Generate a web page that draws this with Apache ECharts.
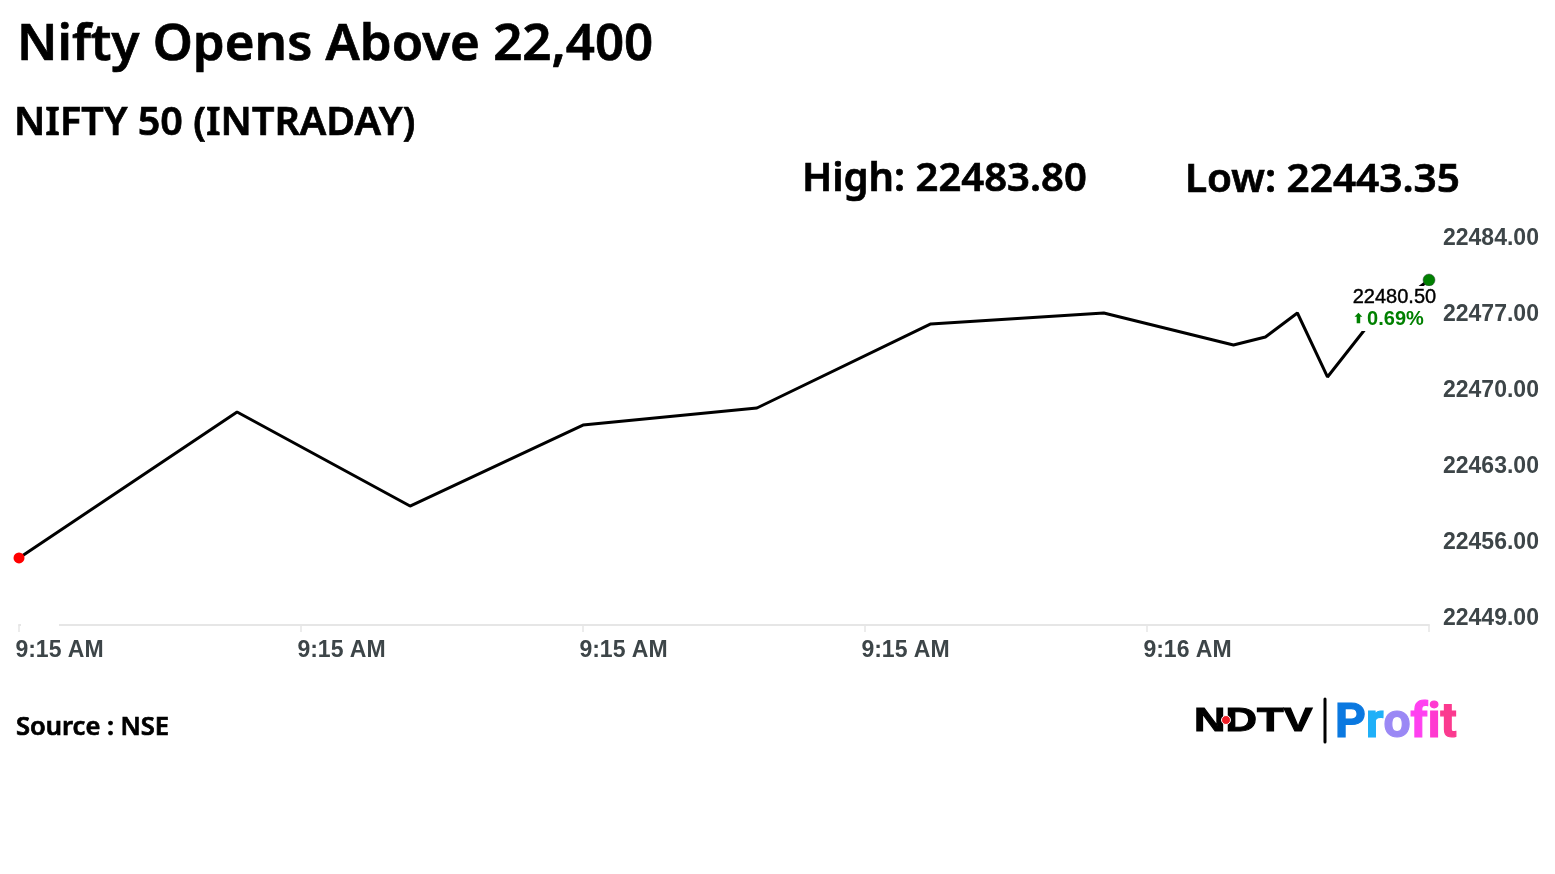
<!DOCTYPE html>
<html>
<head>
<meta charset="utf-8">
<title>Nifty Opens Above 22,400</title>
<script src="https://cdn.jsdelivr.net/npm/echarts@6/dist/echarts.min.js"></script>
<style>
html, body { margin: 0; padding: 0; background: #fff; }
#chart { width: 1555px; height: 874px; }
</style>
</head>
<body>
<div id="chart"></div>
<script>
// seconds after 9:15:00
var seconds = [0, 11.6, 20.8, 30, 39.25, 48.5, 57.7, 64.6, 66.3, 68, 69.6, 71.65, 75];
var prices = [22454.9, 22468.34, 22459.68, 22467.14, 22468.71, 22476.45, 22477.46, 22474.51, 22475.25, 22477.46, 22471.57, 22476.08, 22480.5];
var timeLabels = ['9:15 AM', '9:15 AM', '9:15 AM', '9:15 AM', '9:16 AM', ''];
var changeText = '0.69%';

var axisFont = '"Liberation Sans", Arial, sans-serif';
var headFont = '"Noto Sans", "Open Sans", sans-serif';
var profitFont = 'Roboto, sans-serif';

function headStyle(size) {
    return { fontFamily: headFont, fontSize: size, fontWeight: 600, color: '#000', textBorderColor: '#000', textBorderWidth: 0.7 };
}
function profitLetter(color) {
    return { fontFamily: profitFont, fontSize: 48, fontWeight: 'bold', fill: color, stroke: color, lineWidth: 1.2 };
}

var points = [];
for (var i = 0; i < seconds.length; i++) {
    points.push({ value: [seconds[i], prices[i]], symbol: 'none' });
}
points[0].symbol = 'circle';
points[0].symbolSize = 11;
points[0].itemStyle = { color: '#ff0000', borderWidth: 0 };
var last = points[points.length - 1];
last.symbol = 'circle';
last.symbolSize = 12;
last.itemStyle = { color: '#008000', borderColor: '#3d4548', borderWidth: 0.5 };
last.label = {
    show: true,
    position: 'left',
    distance: 0,
    offset: [-72, 28.5],
    align: 'left',
    backgroundColor: '#fff',
    padding: [0, 1, 1, 2],
    formatter: function () {
        return '{v|' + prices[prices.length - 1].toFixed(2) + '}\n{a|\u2B06} {c|' + changeText + '}';
    },
    rich: {
        v: { fontFamily: axisFont, fontSize: 20, color: '#000', lineHeight: 22, fontWeight: 'normal', textBorderColor: '#000', textBorderWidth: 0.4 },
        a: { fontFamily: axisFont, fontSize: 13, color: '#008000', lineHeight: 22, fontWeight: 'bold' },
        c: { fontFamily: axisFont, fontSize: 20, color: '#008000', lineHeight: 22, fontWeight: 'bold' }
    }
};

var chart = echarts.init(document.getElementById('chart'));
chart.setOption({
    animation: false,
    backgroundColor: '#fff',
    title: [
        { text: 'Nifty Opens Above 22,400', left: 17, top: 20, padding: 0, textStyle: headStyle(51) },
        { text: 'NIFTY 50 (INTRADAY)', left: 14, top: 104, padding: 0, textStyle: headStyle(39.5) },
        { text: 'High: 22483.80', left: 802, top: 160, padding: 0, textStyle: headStyle(40) },
        { text: 'Low: 22443.35', left: 1185, top: 160, padding: 0, textStyle: headStyle(40.5) },
        { text: 'Source : NSE', left: 16, top: 715, padding: 0, textStyle: headStyle(25.5) }
    ],
    grid: { left: 19, right: 126, top: 242, bottom: 252 },
    xAxis: {
        type: 'value',
        min: 0,
        max: 75,
        interval: 15,
        offset: 3,
        splitLine: { show: false },
        axisLine: { show: true, lineStyle: { color: '#e6e6e6', width: 2 } },
        axisTick: { show: true, length: 7, lineStyle: { color: '#e6e6e6', width: 1.5 } },
        axisLabel: {
            margin: 14,
            padding: [0, 0, 0, 81],
            fontFamily: axisFont,
            fontSize: 23,
            fontWeight: 'bold',
            color: '#3d4548',
            formatter: function (v) { return timeLabels[v / 15]; }
        }
    },
    yAxis: {
        type: 'value',
        position: 'right',
        min: 22449,
        max: 22484,
        interval: 7,
        splitLine: { show: false },
        axisLine: { show: false },
        axisTick: { show: false },
        axisLabel: {
            margin: 14,
            verticalAlign: 'bottom',
            lineHeight: 6,
            fontFamily: axisFont,
            fontSize: 23,
            fontWeight: 'bold',
            color: '#3d4548',
            formatter: function (v) { return v.toFixed(2); }
        }
    },
    series: [{
        type: 'line',
        data: points,
        clip: false,
        lineStyle: { color: '#000', width: 3 },
        emphasis: { disabled: true },
        z: 3
    }],
    graphic: [
        // gap in the axis line next to the first tick
        { type: 'rect', shape: { x: 21, y: 623.5, width: 38, height: 3 }, style: { fill: '#fff' }, z: 5 },
        { type: 'text', x: 1194, y: 705, scaleX: 1.32, style: { text: 'NDTV', fontFamily: axisFont, fontSize: 33, fontWeight: 'bold', fill: '#000', stroke: '#000', lineWidth: 1 }, z: 5 },
        { type: 'circle', shape: { cx: 1226, cy: 720, r: 4.5 }, style: { fill: '#ee1c25', stroke: '#fff', lineWidth: 1 }, z: 6 },
        { type: 'line', shape: { x1: 1325, y1: 699, x2: 1325, y2: 742 }, style: { stroke: '#000', lineWidth: 3, lineCap: 'round' }, z: 5 },
        {
            type: 'text', x: 1335, y: 701,
            style: {
                text: '{p|P}{r|r}{o|o}{f|f}{i|i}{t|t}',
                fontFamily: profitFont, fontSize: 48, fontWeight: 'bold',
                rich: {
                    p: profitLetter('#0a78e0'),
                    r: profitLetter('#1fb0f8'),
                    o: profitLetter('#9a88f5'),
                    f: profitLetter('#ff40f0'),
                    i: profitLetter('#ff3ad0'),
                    t: profitLetter('#fb3a8f')
                }
            },
            z: 5
        }
    ]
});

window.onresize = function () {
    chart.resize();
};
</script>
</body>
</html>
